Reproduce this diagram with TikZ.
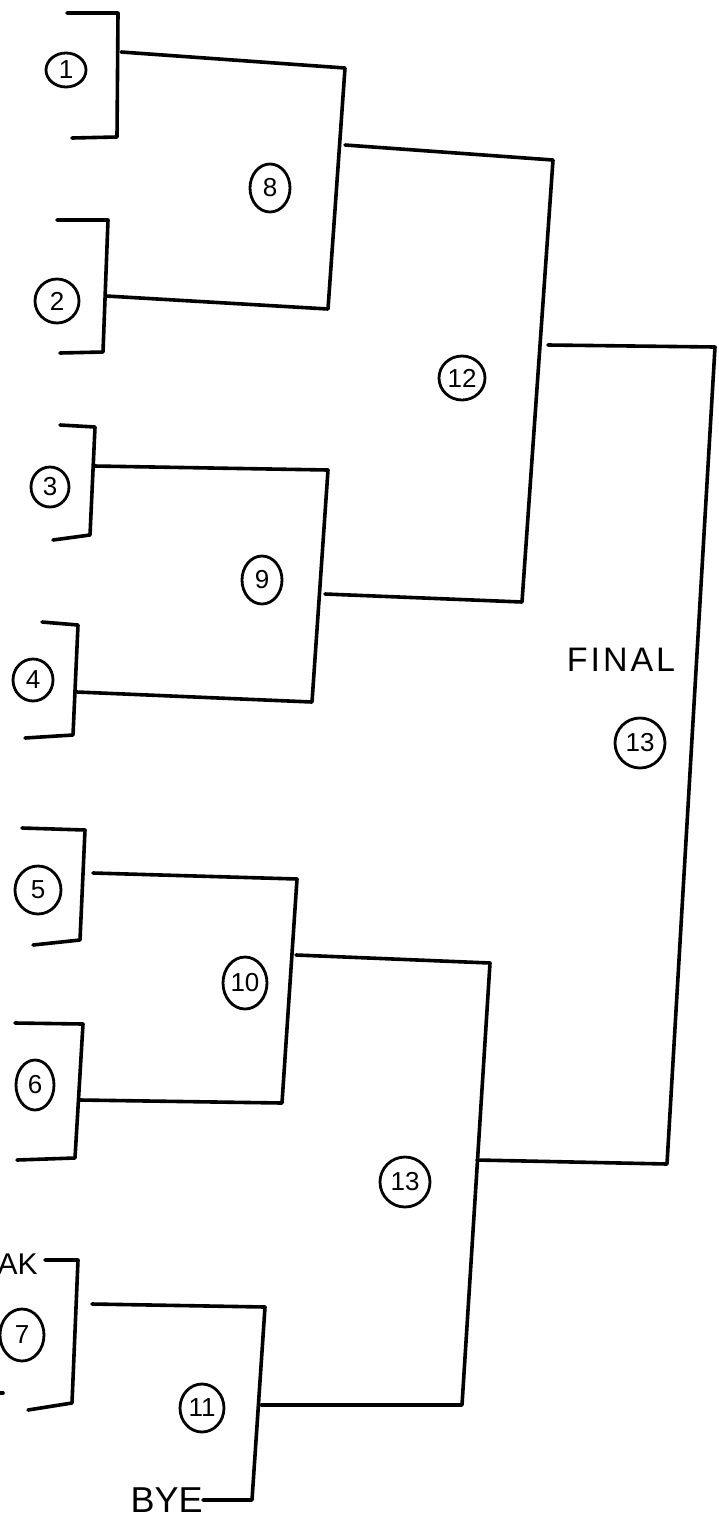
\documentclass[tikz,border=0pt]{standalone}
\usepackage{fontspec}
\setmainfont{Liberation Sans}
\begin{document}
\begin{tikzpicture}[x=0.5pt,y=-0.5pt,
  ln/.style={line width=1.8pt,line cap=round,line join=round},
  num/.style={draw,ellipse,line width=1.4pt,inner sep=0pt,font=\fontsize{13}{13}\selectfont},
  lbl/.style={inner sep=0pt,font=\fontsize{15}{15}\selectfont}]
\usetikzlibrary{shapes.geometric}
\useasboundingbox (0,0) rectangle (718,1521);
% ---------- team labels ----------
\node[num,minimum width=20pt,minimum height=17pt] (t1) at (66,70) {1};
\node[num,minimum width=22pt,minimum height=22pt] (t2) at (57,301) {2};
\node[num,minimum width=19pt,minimum height=20pt] (t3) at (50,487) {3};
\node[num,minimum width=20pt,minimum height=21pt] (t4) at (33,680) {4};
\node[num,minimum width=23pt,minimum height=24pt] (t5) at (38,890) {5};
\node[num,minimum width=19pt,minimum height=25pt] (t6) at (35,1085) {6};
\node[num,minimum width=22pt,minimum height=26pt] (t7) at (22,1335) {7};
% ---------- match labels ----------
\node[num,minimum width=20pt,minimum height=24pt] (m8) at (270,188) {8};
\node[num,minimum width=20pt,minimum height=24pt] (m9) at (262,580) {9};
\node[num,minimum width=22pt,minimum height=26pt] (m10) at (245,983) {10};
\node[num,minimum width=22pt,minimum height=24pt] (m11) at (202,1408) {11};
\node[num,minimum width=23pt,minimum height=22pt] (m12) at (462,378) {12};
\node[num,minimum width=25pt,minimum height=25pt] (m13) at (405,1182) {13};
\node[num,minimum width=25pt,minimum height=25pt] (m14) at (640,743) {13};
\node[lbl,font=\fontsize{17}{17}\selectfont] (final) at (621,660) {F\kern1.5pt I\kern1.5pt N\kern1.5pt A\kern1.5pt L};
\node[lbl,anchor=east,font=\fontsize{18}{18}\selectfont] (bye) at (203,1500) {BYE};
\node[lbl,anchor=east,font=\fontsize{15}{15}\selectfont] (ak) at (38,1264) {AK};
% ---------- bracket coordinates ----------
\coordinate (b1a) at (67,13);  \coordinate (b1b) at (118,13);  \coordinate (b1c) at (117,137); \coordinate (b1d) at (72,138);
\coordinate (b2a) at (57,220); \coordinate (b2b) at (108,220); \coordinate (b2c) at (103,352); \coordinate (b2d) at (60,353);
\coordinate (b3a) at (60,425); \coordinate (b3b) at (95,427);  \coordinate (b3c) at (90,535);  \coordinate (b3d) at (53,540);
\coordinate (b4a) at (42,622); \coordinate (b4b) at (78,625);  \coordinate (b4c) at (73,735);  \coordinate (b4d) at (25,738);
\coordinate (b5a) at (22,828); \coordinate (b5b) at (85,830);  \coordinate (b5c) at (80,940);  \coordinate (b5d) at (33,945);
\coordinate (b6a) at (15,1023);\coordinate (b6b) at (83,1024); \coordinate (b6c) at (75,1158); \coordinate (b6d) at (17,1160);
\coordinate (b7a) at (45,1260);\coordinate (b7b) at (78,1260); \coordinate (b7c) at (72,1403); \coordinate (b7d) at (28,1410);
\foreach \i in {1,...,7}{\draw[ln] (b\i a) -- (b\i b) -- (b\i c) -- (b\i d);}
\draw[ln] (0,1393) -- (3,1393);
% ---------- round 1 ----------
\coordinate (o1) at (121,52);  \coordinate (c8t) at (345,68);
\coordinate (o2) at (106,296); \coordinate (c8b) at (328,309);
\draw[ln] (o1) -- (c8t) -- (c8b) -- (o2);
\coordinate (o3) at (94,466);  \coordinate (c9t) at (328,470);
\coordinate (o4) at (77,692);  \coordinate (c9b) at (312,702);
\draw[ln] (o3) -- (c9t) -- (c9b) -- (o4);
\coordinate (o5) at (93,873);  \coordinate (c10t) at (297,879);
\coordinate (o6) at (80,1100); \coordinate (c10b) at (282,1103);
\draw[ln] (o5) -- (c10t) -- (c10b) -- (o6);
\coordinate (o7) at (92,1304); \coordinate (c11t) at (265,1307);
\coordinate (c11b) at (252,1500);
\draw[ln] (o7) -- (c11t) -- (c11b) -- (bye.east);
% ---------- round 2 ----------
\coordinate (o8) at (345,145); \coordinate (c12t) at (553,160);
\coordinate (o9) at (325,594); \coordinate (c12b) at (522,602);
\draw[ln] (o8) -- (c12t) -- (c12b) -- (o9);
\coordinate (o10) at (296,955); \coordinate (c13t) at (490,963);
\coordinate (o11) at (261,1405);\coordinate (c13b) at (462,1405);
\draw[ln] (o10) -- (c13t) -- (c13b) -- (o11);
% ---------- final ----------
\coordinate (o12) at (548,345); \coordinate (cft) at (715,347);
\coordinate (o13) at (477,1160);\coordinate (cfb) at (667,1164);
\draw[ln] (o12) -- (cft) -- (cfb) -- (o13);
\end{tikzpicture}
\end{document}
